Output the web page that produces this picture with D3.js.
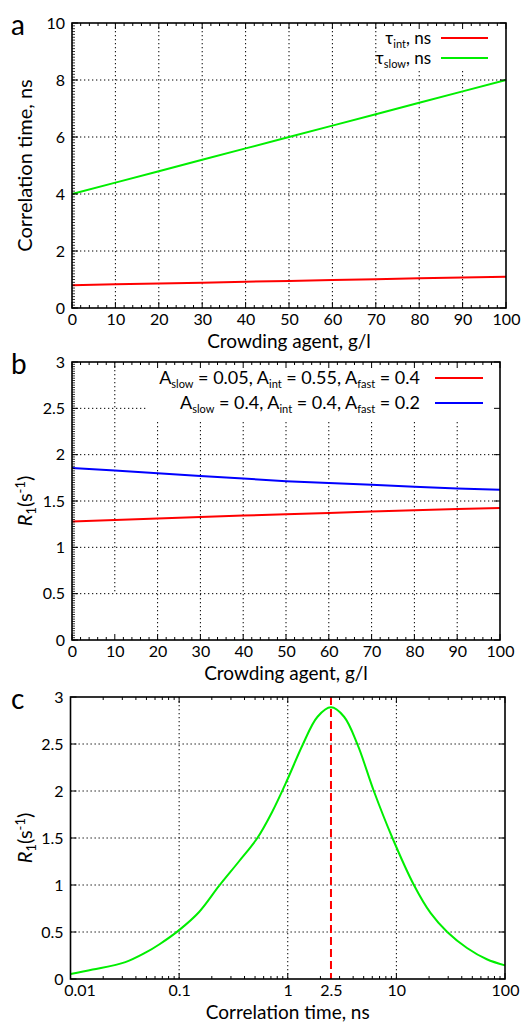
<!DOCTYPE html>
<html>
<head>
<meta charset="utf-8">
<script src="https://cdn.jsdelivr.net/npm/d3@7"></script>
<style>
  body { margin: 0; background: #fff; }
  svg { display: block; }
  text { font-family: Lato, sans-serif; fill: #000; }
</style>
</head>
<body>
<svg width="526" height="1023"></svg>
<script>
// panel a / b: crowding agent concentration, g/l
const crowding = [0, 10, 20, 30, 40, 50, 60, 70, 80, 90, 100];
const tauInt  = [0.80, 0.83, 0.86, 0.89, 0.92, 0.95, 0.98, 1.01, 1.04, 1.07, 1.10];
const tauSlow = [4.0, 4.4, 4.8, 5.2, 5.6, 6.0, 6.4, 6.8, 7.2, 7.6, 8.0];
const r1Set1  = [1.280, 1.296, 1.310, 1.328, 1.343, 1.357, 1.371, 1.386, 1.400, 1.414, 1.425];
const r1Set2  = [1.857, 1.829, 1.800, 1.771, 1.743, 1.714, 1.693, 1.675, 1.654, 1.636, 1.621];

// panel c: R1 against correlation time
const corrTime = [0.01, 0.016, 0.032, 0.049, 0.066, 0.1, 0.152, 0.233, 0.355, 0.525, 0.72, 1.0,
                  1.37, 1.88, 2.5, 3.3, 4.4, 6.2, 9.2, 14.5, 20.7, 29.4, 44.7, 68, 100];
const r1Curve  = [0.053, 0.10, 0.18, 0.28, 0.37, 0.52, 0.71, 0.99, 1.25, 1.5, 1.78, 2.13,
                  2.49, 2.79, 2.89, 2.79, 2.49, 2.0, 1.5, 1.0, 0.70, 0.5, 0.33, 0.21, 0.145];
const peakTime = 2.5;

const xTicksLin = [0, 10, 20, 30, 40, 50, 60, 70, 80, 90, 100];
const yTicksA = [0, 2, 4, 6, 8, 10];
const yTicksB = [0, 0.5, 1, 1.5, 2, 2.5, 3];
const xTicksLog = [0.01, 0.1, 1, 10, 100];
const xLabelsLog = [0.01, 0.1, 1, 2.5, 10, 100];

const legendA = [
  { parts: [["τ"], ["int", "sub"], [", ns"]], color: "#ff0000" },
  { parts: [["τ"], ["slow", "sub"], [", ns"]], color: "#00ee00" }
];
const legendB = [
  { parts: [["A"], ["slow", "sub"], [" = 0.05, A"], ["int", "sub"], [" = 0.55, A"], ["fast", "sub"], [" = 0.4"]], color: "#ff0000" },
  { parts: [["A"], ["slow", "sub"], [" = 0.4, A"], ["int", "sub"], [" = 0.4, A"], ["fast", "sub"], [" = 0.2"]], color: "#0000ff" }
];

const svg = d3.select("svg");
const fmt = d3.format("~g");

// text with sub/superscripts
function rich(t, parts, big, small) {
  let shift = 0;
  parts.forEach(p => {
    const want = p[1] === "sub" ? 4 : p[1] === "sup" ? -7 : 0;
    const ts = t.append("tspan").text(p[0])
      .attr("font-size", p[1] ? small : big)
      .attr("dy", want - shift);
    if (p[2]) ts.attr("font-style", "italic");
    shift = want;
  });
}

function panel(o) {
  const g = svg.append("g");
  const x = o.x, y = o.y;
  const [xl, xr] = x.range(), [yb, yt] = y.range();

  // dotted grid
  g.selectAll(".gx").data(o.xGrid).join("line")
    .attr("x1", d => x(d)).attr("x2", d => x(d))
    .attr("y1", y(y.domain()[1]))
    .attr("y2", d => y(o.gridBottom ? o.gridBottom(d) : y.domain()[0]))
    .attr("stroke", "#000").attr("stroke-width", 1).attr("stroke-dasharray", "1.3,2.7");
  g.selectAll(".gy").data(o.yGrid).join("line")
    .attr("x1", xl).attr("x2", xr)
    .attr("y1", d => y(d)).attr("y2", d => y(d))
    .attr("stroke", "#000").attr("stroke-width", 1).attr("stroke-dasharray", "1.3,2.7");

  // legend box hides grid
  if (o.legend) {
    const L = o.legend;
    g.append("rect").attr("x", L.boxX).attr("y", yt + 1).attr("width", xr - L.boxX - 1)
      .attr("height", L.boxBottom - yt).attr("fill", "#fff");
    L.items.forEach((it, i) => {
      const yy = L.y0 + i * L.dy;
      const t = g.append("text").attr("x", L.textX).attr("y", yy + 6).attr("text-anchor", "end");
      rich(t, it.parts, L.font, 11);
      g.append("line").attr("x1", L.lineX0).attr("x2", L.lineX1).attr("y1", yy).attr("y2", yy)
        .attr("stroke", it.color).attr("stroke-width", 2);
    });
  }

  if (o.extra) o.extra(g, x, y);

  // series
  o.series.forEach(s => {
    g.append("path").datum(s.xs.map((v, i) => [v, s.ys[i]]))
      .attr("fill", "none").attr("stroke", s.color).attr("stroke-width", 2)
      .attr("d", d3.line().x(d => x(d[0])).y(d => y(d[1])).curve(s.curve || d3.curveLinear));
  });

  // ticks, inward on all sides
  const tk = (vals, len, horiz) => {
    vals.forEach(v => {
      if (horiz) {
        g.append("line").attr("x1", x(v)).attr("x2", x(v)).attr("y1", yb).attr("y2", yb - len).attr("stroke", "#000");
        g.append("line").attr("x1", x(v)).attr("x2", x(v)).attr("y1", yt).attr("y2", yt + len).attr("stroke", "#000");
      } else {
        g.append("line").attr("x1", xl).attr("x2", xl + len).attr("y1", y(v)).attr("y2", y(v)).attr("stroke", "#000");
        g.append("line").attr("x1", xr).attr("x2", xr - len).attr("y1", y(v)).attr("y2", y(v)).attr("stroke", "#000");
      }
    });
  };
  tk(o.xMinor, 3, true);
  tk(o.xMajor, 6, true);
  tk(o.yMajor, 6, false);
  if (o.yMinor) {
    o.yMinor.forEach(v => {
      g.append("line").attr("x1", xl).attr("x2", xl + 3).attr("y1", y(v)).attr("y2", y(v)).attr("stroke", "#000").attr("stroke-width", 0.8);
    });
  }

  // border
  g.append("rect").attr("x", xl).attr("y", yt).attr("width", xr - xl).attr("height", yb - yt)
    .attr("fill", "none").attr("stroke", "#000").attr("stroke-width", 1.6);

  // tick labels through d3 axes
  const ax = g.append("g").attr("transform", `translate(0,${yb})`)
    .call(d3.axisBottom(x).tickValues(o.xLabels).tickSize(0).tickPadding(6).tickFormat(fmt));
  ax.select(".domain").remove();
  ax.selectAll("text").attr("font-family", "Lato, sans-serif").attr("font-size", 16).attr("fill", "#000");
  if (o.xLabelStyle) o.xLabelStyle(ax);

  const ay = g.append("g").attr("transform", `translate(${xl},0)`)
    .call(d3.axisLeft(y).tickValues(o.yMajor).tickSize(0).tickPadding(7).tickFormat(fmt));
  ay.select(".domain").remove();
  ay.selectAll("text").attr("font-family", "Lato, sans-serif").attr("font-size", 16).attr("fill", "#000");

  // titles
  g.append("text").attr("x", (xl + xr) / 2).attr("y", yb + 40).attr("text-anchor", "middle")
    .attr("font-size", 19).text(o.xTitle);
  const yt2 = g.append("text").attr("text-anchor", "middle")
    .attr("transform", `translate(32,${(yb + yt) / 2}) rotate(-90)`);
  rich(yt2, o.yTitle, 20, 13);

  g.append("text").attr("x", 11).attr("y", yt + 12).attr("font-size", 28).text(o.tag);
}

const minorLin = d3.range(0, 100.01, 2).filter(v => v % 10 !== 0);
const r1Title = [["R", null, true], ["1", "sub"], ["(s"], ["-1", "sup"], [")"]];

// panel a
panel({
  tag: "a",
  x: d3.scaleLinear().domain([0, 100]).range([72, 506]),
  y: d3.scaleLinear().domain([0, 10]).range([308, 23]),
  xMajor: xTicksLin, xMinor: minorLin, xLabels: xTicksLin, xGrid: xTicksLin.slice(1, -1),
  yMajor: yTicksA, yMinor: d3.range(0, 10, 0.1), yGrid: yTicksA.slice(1, -1),
  xTitle: "Crowding agent, g/l",
  yTitle: [["Correlation time, ns"]],
  legend: { boxX: 380, boxBottom: 68, textX: 431, lineX0: 441, lineX1: 488, y0: 38, dy: 20, font: 17, items: legendA },
  series: [
    { xs: crowding, ys: tauInt, color: "#ff0000" },
    { xs: crowding, ys: tauSlow, color: "#00ee00" }
  ]
});

// panel b
panel({
  tag: "b",
  x: d3.scaleLinear().domain([0, 100]).range([72, 500]),
  y: d3.scaleLinear().domain([0, 3]).range([640, 362]),
  xMajor: xTicksLin, xMinor: minorLin, xLabels: xTicksLin, xGrid: xTicksLin.slice(1, -1),
  gridBottom: d => d === 10 ? 0.5 : 0,
  yMajor: yTicksB, yMinor: d3.range(0, 3, 0.025), yGrid: yTicksB.slice(1, -1),
  xTitle: "Crowding agent, g/l",
  yTitle: r1Title,
  legend: { boxX: 148, boxBottom: 420, textX: 420, lineX0: 435, lineX1: 483, y0: 378, dy: 25, font: 18, items: legendB },
  series: [
    { xs: crowding, ys: r1Set1, color: "#ff0000" },
    { xs: crowding, ys: r1Set2, color: "#0000ff" }
  ]
});

// panel c
const minorLog = [];
[0.01, 0.1, 1, 10].forEach(d => { for (let k = 2; k <= 9; k++) minorLog.push(d * k); });
panel({
  tag: "c",
  x: d3.scaleLog().domain([0.01, 100]).range([70.5, 505]),
  y: d3.scaleLinear().domain([0, 3]).range([979, 697]),
  xMajor: xTicksLog, xMinor: minorLog, xLabels: xLabelsLog, xGrid: xTicksLog.slice(1, -1),
  yMajor: yTicksB, yGrid: yTicksB.slice(1, -1),
  xTitle: "Correlation time, ns",
  yTitle: r1Title,
  xLabelStyle: ax => {
    ax.selectAll("text").filter(d => d === peakTime).attr("fill", "#ff0000");
    ax.selectAll("text").filter(d => d === 0.01).attr("dx", 9);
  },
  extra: (g, x, y) => {
    g.append("line").attr("x1", x(peakTime)).attr("x2", x(peakTime)).attr("y1", y(3)).attr("y2", y(0))
      .attr("stroke", "#ff0000").attr("stroke-width", 2).attr("stroke-dasharray", "8,4");
  },
  series: [
    { xs: corrTime, ys: r1Curve, color: "#00ee00", curve: d3.curveCatmullRom.alpha(0.5) }
  ]
});
</script>
</body>
</html>
